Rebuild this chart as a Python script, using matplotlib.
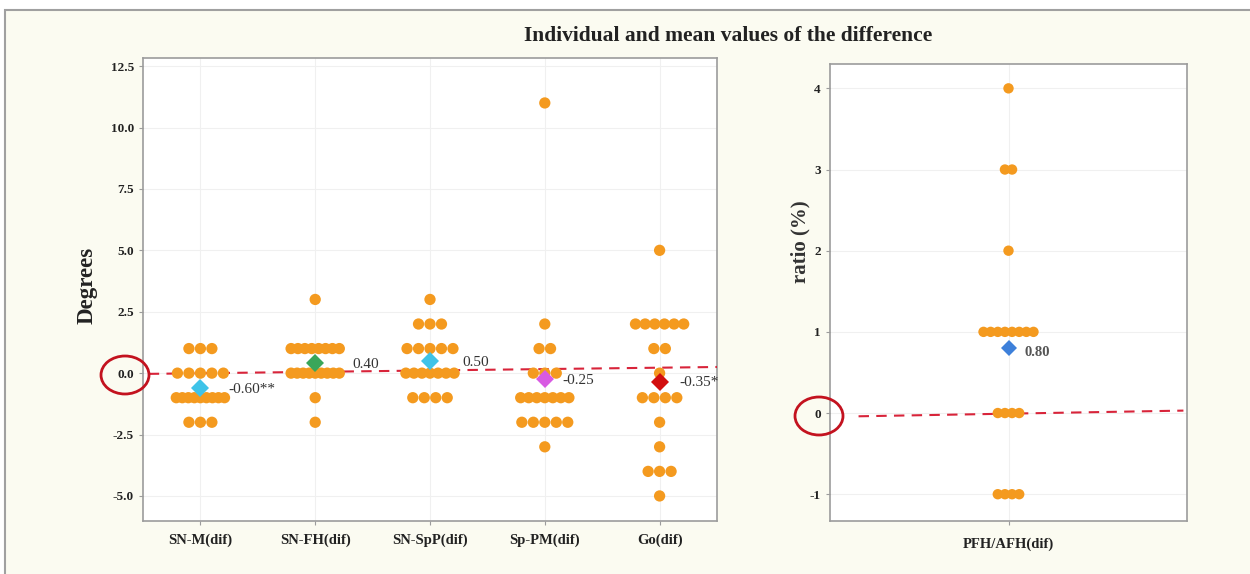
import numpy as np
import matplotlib
matplotlib.use("Agg")
import matplotlib.pyplot as plt
from matplotlib.patches import Ellipse, Rectangle

plt.rcParams['font.family'] = ['Liberation Serif', 'DejaVu Serif']
plt.rcParams['axes.unicode_minus'] = False

# individual differences per measurement (degrees)
categories = ["SN-M(dif)", "SN-FH(dif)", "SN-SpP(dif)", "Sp-PM(dif)", "Go(dif)"]
sn_m_dif = [1, 1, 1, 0, 0, 0, 0, 0, -1, -1, -1, -1, -1, -1, -1, -1, -1, -2, -2, -2]
sn_fh_dif = [3, 1, 1, 1, 1, 1, 1, 1, 1, 0, 0, 0, 0, 0, 0, 0, 0, 0, -1, -2]
sn_spp_dif = [3, 2, 2, 2, 1, 1, 1, 1, 1, 0, 0, 0, 0, 0, 0, 0, -1, -1, -1, -1]
sp_pm_dif = [11, 2, 1, 1, 0, 0, 0, -1, -1, -1, -1, -1, -1, -1, -2, -2, -2, -2, -2, -3]
go_dif = [5, 2, 2, 2, 2, 2, 2, 1, 1, 0, -1, -1, -1, -1, -2, -3, -4, -4, -4, -5]
significance = ["**", "", "", "", "*"]
mean_colors = ["#3fc3e8", "#3aa65a", "#3fc3e8", "#d85ae2", "#d20f0f"]

# ratio difference (%)
ratio_category = "PFH/AFH(dif)"
pfh_afh_dif = [4, 3, 3, 2, 1, 1, 1, 1, 1, 1, 1, 1, 0, 0, 0, 0, -1, -1, -1, -1]
ratio_mean_color = "#3d80da"

left_ticks = [-5.0, -2.5, 0.0, 2.5, 5.0, 7.5, 10.0, 12.5]
right_ticks = [-1, 0, 1, 2, 3, 4]

# zero reference lines (slightly tilted, as drawn)
zero_line_left = ([-0.45, 4.5], [-0.03, 0.25])
zero_line_right = ([-0.42, 0.49], [-0.04, 0.03])

DOT = "#f49a1f"
W, H = 1250, 574


def stacked_x(values, center, step, max_span):
    xs = np.zeros(len(values))
    vals = np.asarray(values)
    for v in np.unique(vals):
        idx = np.where(vals == v)[0]
        n = len(idx)
        gap = step if n == 1 else min(step, max_span / (n - 1))
        xs[idx] = center + (np.arange(n) - (n - 1) / 2) * gap
    return xs


def style_axis(ax):
    ax.set_zorder(2)
    ax.set_facecolor("white")
    for s in ax.spines.values():
        s.set_color("#9c9c9c")
        s.set_linewidth(1.2)
    ax.grid(True, color="#f0f0f0", linewidth=0.8)
    ax.set_axisbelow(True)
    ax.tick_params(axis="both", length=3, color="#9c9c9c", labelcolor="#222222")
    ax.tick_params(axis="x", labelsize=10.5)
    ax.tick_params(axis="y", labelsize=9.5)
    for lab in ax.get_xticklabels() + ax.get_yticklabels():
        lab.set_fontweight("bold")


fig = plt.figure(figsize=(W / 100, H / 100), dpi=100, facecolor="white")
fig.patches.append(Rectangle((5 / W, -0.02), 1.0, 1.02 - 10 / H,
                             transform=fig.transFigure, facecolor="#fbfbf1",
                             edgecolor="#a0a0a0", linewidth=1.5, zorder=-1))

# left panel
ax1 = fig.add_axes([143 / W, 1 - 521 / H, 574 / W, 463 / H])
groups = [sn_m_dif, sn_fh_dif, sn_spp_dif, sp_pm_dif, go_dif]
label_dx = [0.24, 0.32, 0.28, 0.15, 0.17]
ax1.plot(zero_line_left[0], zero_line_left[1], color="#d8243a", lw=1.5,
         dashes=(5, 3.5), zorder=3)
for i, vals in enumerate(groups):
    xs = stacked_x(vals, i, 0.1, 0.42)
    ax1.scatter(xs, vals, s=66, color=DOT, edgecolors="none", zorder=4)
    m = np.mean(vals)
    ax1.plot(i, m, marker="D", markersize=9.5, color=mean_colors[i],
             markeredgewidth=0, zorder=5)
    ax1.text(i + label_dx[i], m - 0.05, f"{m:.2f}{significance[i]}",
             fontsize=11, color="#333333", va="center", ha="left", zorder=6)
ax1.set_xlim(-0.5, 4.5)
ax1.set_ylim(-6.02, 12.83)
ax1.set_xticks(range(len(categories)))
ax1.set_xticklabels(categories)
ax1.set_yticks(left_ticks)
ax1.set_yticklabels([f"{t:.1f}" for t in left_ticks])
style_axis(ax1)
ax1.tick_params(axis="x", pad=6)

# right panel
ax2 = fig.add_axes([830 / W, 1 - 521 / H, 357 / W, 457 / H])
ax2.plot(zero_line_right[0], zero_line_right[1], color="#d8243a", lw=1.5,
         dashes=(5, 3.5), zorder=3)
xs = stacked_x(pfh_afh_dif, 0, 0.02, 0.15)
ax2.scatter(xs, pfh_afh_dif, s=56, color=DOT, edgecolors="none", zorder=4)
m2 = np.mean(pfh_afh_dif)
ax2.plot(0, m2, marker="D", markersize=8.5, color=ratio_mean_color,
         markeredgewidth=0, zorder=5)
ax2.text(0.045, m2 - 0.05, f"{m2:.2f}", fontsize=10.5, color="#555555",
         va="center", ha="left", fontweight="bold", zorder=6)
ax2.set_xlim(-0.5, 0.5)
ax2.set_ylim(-1.33, 4.3)
ax2.set_xticks([0])
ax2.set_xticklabels([ratio_category])
ax2.set_yticks(right_ticks)
style_axis(ax2)
ax2.tick_params(axis="x", pad=9)

# titles and axis labels
fig.text(728 / W, 1 - 36 / H, "Individual and mean values of the difference",
         ha="center", va="center", fontsize=15.5, fontweight="bold",
         color="#222222")
fig.text(87 / W, 1 - 285 / H, "Degrees", rotation=90, ha="center",
         va="center", fontsize=16.5, fontweight="bold", color="#222222")
fig.text(800 / W, 1 - 242 / H, "ratio (%)", rotation=90, ha="center",
         va="center", fontsize=15, fontweight="bold", color="#333333")

# highlight rings around the zero tick labels
for cx, cy, ew, eh in [(125, 375, 48, 38), (819, 416, 48, 38)]:
    fig.patches.append(Ellipse((cx / W, 1 - cy / H), ew / W, eh / H,
                               transform=fig.transFigure, fill=False,
                               edgecolor="#c3121f", linewidth=2, zorder=10))

fig.savefig("out.png", dpi=100, facecolor=fig.get_facecolor())
